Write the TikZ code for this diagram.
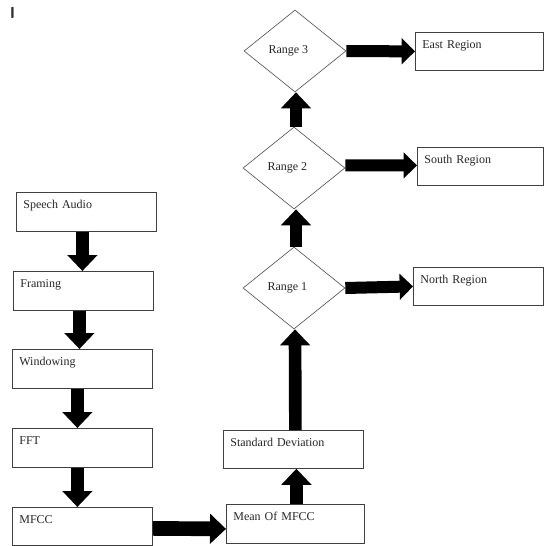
\documentclass[tikz,border=0pt]{standalone}
\usepackage{fontspec}
\setmainfont{Liberation Serif}
\usetikzlibrary{shapes.geometric,arrows.meta}
\begin{document}
\begin{tikzpicture}[x=0.75pt,y=-0.75pt,
  procbox/.style={draw=black!75, line width=0.6pt, inner xsep=5.25pt, inner ysep=0pt,
    align=left, anchor=north west, text height=12pt, text depth=17.25pt,
    text width=94.5pt, font=\fontsize{9}{10}\selectfont, text=black!85},
  decbox/.style={draw=black!65, line width=0.5pt, shape=diamond, inner sep=0pt,
    minimum width=76.5pt, minimum height=61.5pt, font=\fontsize{9}{10}\selectfont, text=black!85},
  blk/.style={line width=9.5pt, black, -{Triangle[length=12pt,width=22pt]}},
  blkh/.style={line width=9pt, black, -{Triangle[length=10pt,width=19pt]}}]
\useasboundingbox (0,0) rectangle (544,546);
\node[font=\sffamily\bfseries\fontsize{12}{12}\selectfont, text=black!80, inner sep=0pt] (mk) at (12.5,12.5) {I};
% left column
\node[procbox] (sa) at (16,192) {Speech Audio};
\node[procbox] (fr) at (13,271) {Framing};
\node[procbox] (wi) at (12,349) {Windowing};
\node[procbox] (ff) at (12,428) {FFT};
\node[procbox, text depth=16.5pt] (mf) at (12,507) {MFCC};
% middle column
\node[procbox, text width=93pt] (mo) at (226,504) {Mean Of MFCC};
\node[procbox, text depth=16.5pt] (sd) at (223,430) {Standard Deviation};
\node[decbox] (r1) at (294,288) {Range 1\hspace*{10pt}};
\node[decbox] (r2) at (294,168) {Range 2\hspace*{10pt}};
\node[decbox] (r3) at (295,51) {Range 3\hspace*{10pt}};
% regions
\node[procbox, text width=85.5pt, text depth=16.5pt] (ea) at (415,32) {East Region};
\node[procbox, text width=84pt, text depth=16.5pt] (so) at (417,147) {South Region};
\node[procbox, text width=87pt, text depth=16.5pt] (no) at (413,267) {North Region};
% connectors
\draw[blk] ([xshift=-3pt]sa.south) -- ([xshift=-0.75pt]fr.north);
\draw[blk] ([xshift=-3pt]fr.south) -- ([xshift=-2.25pt]wi.north);
\draw[blk] ([xshift=-3.75pt]wi.south) -- ([xshift=-3.75pt]ff.north);
\draw[blk] ([xshift=-3.75pt]ff.south) -- ([xshift=-3.75pt]mf.north);
\draw[blk, line width=11pt] ([yshift=-1.5pt]mf.east) -- ([yshift=-3.75pt]mo.west);
\draw[blk] ([xshift=0.75pt]mo.north) -- ([xshift=2.25pt]sd.south);
\draw[blk] ([xshift=1.5pt]sd.north) -- ([xshift=0.75pt]r1.south);
\draw[blk] ([xshift=1.5pt]r1.north) -- ([xshift=1.5pt]r2.south);
\draw[blk] ([xshift=1.5pt]r2.north) -- ([xshift=0.75pt]r3.south);
\draw[blkh] (r3.east) -- (ea.west);
\draw[blkh] ([yshift=1.9pt]r2.east) -- ([yshift=0.75pt]so.west);
\draw[blkh] (r1.east) -- (no.west);
\end{tikzpicture}
\end{document}
